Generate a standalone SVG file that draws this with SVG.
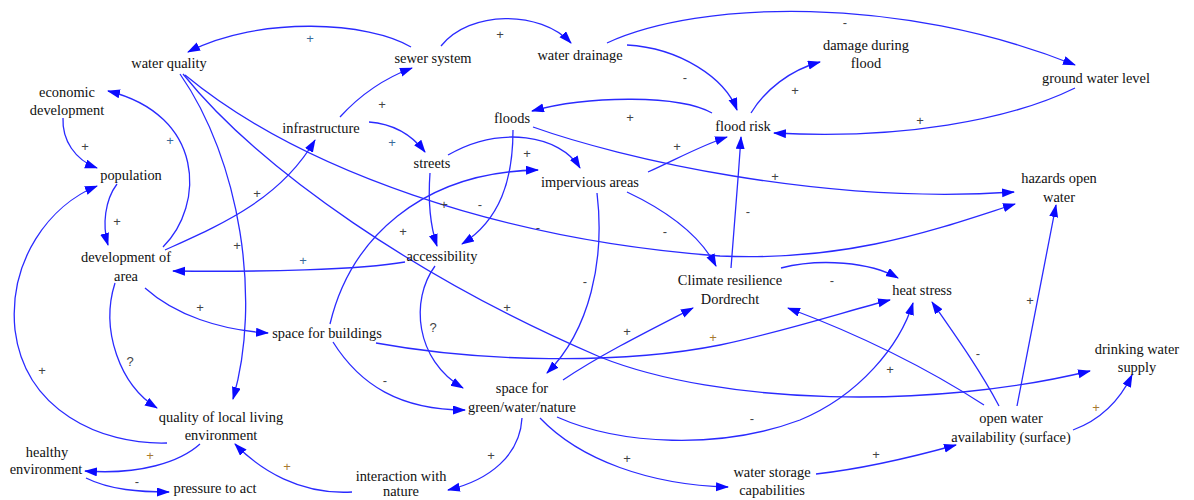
<svg xmlns="http://www.w3.org/2000/svg" width="1194" height="500" viewBox="0 0 1194 500">
<defs>
<marker id="ah" markerUnits="userSpaceOnUse" markerWidth="14" markerHeight="10" refX="12" refY="4.5" orient="auto">
<path d="M0,0 L13,4.5 L0,9 z" fill="#0a0aff"/>
</marker>
</defs>
<style>
.e{fill:none;stroke:#2a2aff;stroke-width:1.3;marker-end:url(#ah)}
.n{font-family:"Liberation Serif","Times New Roman",serif;font-size:14.4px;fill:#111;text-anchor:middle}
.p{font-family:"Liberation Sans",Arial,sans-serif;font-size:13px;fill:#444;text-anchor:middle}
.b{fill:#3a6a9a}
.o{fill:#a87a30}
</style>
<rect width="1194" height="500" fill="#fff"/>
<g id="connectors">
<path class="e" d="M411,47 C370,22 260,15 188,52"/>
<path class="e" d="M441,46 C470,10 540,10 571,43"/>
<path class="e" d="M607,43 C700,0 900,-5 1075,65"/>
<path class="e" d="M627,45 C680,48 725,78 737,110"/>
<path class="e" d="M1075,88 C1010,120 900,140 774,133"/>
<path class="e" d="M751,113 C765,90 790,70 820,62"/>
<path class="e" d="M712,113 C680,95 590,95 532,111"/>
<path class="e" d="M533,127 C620,158 820,205 1014,192"/>
<path class="e" d="M185,75 C300,170 500,240 720,256 C850,262 940,228 1015,204"/>
<path class="e" d="M180,74 C240,160 262,300 233,399"/>
<path class="e" d="M183,74 C260,170 420,280 600,357 C720,405 930,410 1090,371"/>
<path class="e" d="M63,118 C62,140 75,160 97,168"/>
<path class="e" d="M163,247 C205,205 205,115 108,91"/>
<path class="e" d="M117,184 C105,200 102,225 108,245"/>
<path class="e" d="M167,443 C100,445 25,410 15,330 C8,260 50,205 97,186"/>
<path class="e" d="M115,283 C100,330 120,385 157,408"/>
<path class="e" d="M145,288 C175,315 220,330 268,333"/>
<path class="e" d="M405,262 C360,270 260,272 173,271"/>
<path class="e" d="M165,250 C220,225 280,200 315,140"/>
<path class="e" d="M340,117 C360,95 385,78 412,68"/>
<path class="e" d="M369,122 C395,124 412,135 425,152"/>
<path class="e" d="M430,173 C428,200 430,225 437,246"/>
<path class="e" d="M513,130 C513,180 500,220 462,244"/>
<path class="e" d="M448,155 C500,125 560,135 580,168"/>
<path class="e" d="M330,324 C350,240 420,172 538,170"/>
<path class="e" d="M648,172 C675,160 700,146 727,137"/>
<path class="e" d="M627,192 C665,210 700,235 716,266"/>
<path class="e" d="M597,193 C605,260 590,330 547,373"/>
<path class="e" d="M731,268 C735,220 738,180 741,137"/>
<path class="e" d="M781,268 C820,258 870,262 898,278"/>
<path class="e" d="M435,266 C410,300 415,360 463,388"/>
<path class="e" d="M333,342 C360,385 400,410 465,410"/>
<path class="e" d="M376,343 C480,362 620,365 720,345 C790,330 850,310 890,300"/>
<path class="e" d="M563,380 C600,355 650,330 693,308"/>
<path class="e" d="M557,417 C620,445 720,450 800,420 C860,395 900,345 913,303"/>
<path class="e" d="M522,418 C520,455 490,480 448,490"/>
<path class="e" d="M540,418 C580,460 650,485 728,487"/>
<path class="e" d="M816,474 C870,468 920,455 956,445"/>
<path class="e" d="M1073,430 C1100,420 1120,400 1132,375"/>
<path class="e" d="M1017,406 C1030,340 1045,260 1056,205"/>
<path class="e" d="M999,406 C980,370 955,335 932,302"/>
<path class="e" d="M984,405 C930,370 860,335 788,308"/>
<path class="e" d="M352,492 C300,495 260,470 235,444"/>
<path class="e" d="M200,444 C180,462 140,475 85,471"/>
<path class="e" d="M86,478 C110,490 140,492 169,492"/>
</g>
<g id="polarities">
<text class="p b" x="310" y="43">+</text>
<text class="p" x="500" y="39">+</text>
<text class="p" x="845" y="27">-</text>
<text class="p" x="685" y="82">-</text>
<text class="p" x="920" y="125">+</text>
<text class="p" x="795" y="95">+</text>
<text class="p" x="630" y="122">+</text>
<text class="p" x="775" y="181">+</text>
<text class="p" x="538" y="232">-</text>
<text class="p" x="237" y="250">+</text>
<text class="p" x="507" y="312">+</text>
<text class="p" x="85" y="151">+</text>
<text class="p b" x="170" y="145">+</text>
<text class="p" x="117" y="226">+</text>
<text class="p" x="42" y="375">+</text>
<text class="p" x="130" y="366">?</text>
<text class="p" x="200" y="312">+</text>
<text class="p b" x="303" y="265">+</text>
<text class="p" x="257" y="198">+</text>
<text class="p" x="382" y="109">+</text>
<text class="p b" x="392" y="147">+</text>
<text class="p" x="444" y="209">+</text>
<text class="p" x="480" y="209">-</text>
<text class="p" x="527" y="158">+</text>
<text class="p" x="403" y="236">+</text>
<text class="p" x="677" y="151">+</text>
<text class="p" x="665" y="236">-</text>
<text class="p" x="585" y="286">-</text>
<text class="p" x="748" y="216">-</text>
<text class="p" x="832" y="285">-</text>
<text class="p" x="433" y="332">?</text>
<text class="p" x="385" y="385">-</text>
<text class="p o" x="713" y="342">+</text>
<text class="p" x="627" y="336">+</text>
<text class="p" x="752" y="423">-</text>
<text class="p" x="491" y="460">+</text>
<text class="p" x="627" y="463">+</text>
<text class="p" x="876" y="459">+</text>
<text class="p o" x="1096" y="412">+</text>
<text class="p" x="1030" y="305">+</text>
<text class="p" x="978" y="358">-</text>
<text class="p" x="890" y="374">+</text>
<text class="p o" x="287" y="471">+</text>
<text class="p o" x="150" y="460">+</text>
<text class="p" x="137" y="486">-</text>
</g>
<g id="water-quality"><text class="n" x="169" y="68">water quality</text></g>
<g id="sewer-system"><text class="n" x="433" y="63">sewer system</text></g>
<g id="water-drainage"><text class="n" x="580" y="60">water drainage</text></g>
<g id="damage-during-flood"><text class="n" x="866" y="50">damage during</text><text class="n" x="866" y="68">flood</text></g>
<g id="ground-water-level"><text class="n" x="1096" y="83">ground water level</text></g>
<g id="economic-development"><text class="n" x="67" y="97">economic</text><text class="n" x="67" y="115">development</text></g>
<g id="population"><text class="n" x="131" y="180">population</text></g>
<g id="infrastructure"><text class="n" x="321" y="133">infrastructure</text></g>
<g id="floods"><text class="n" x="512" y="123">floods</text></g>
<g id="flood-risk"><text class="n" x="743" y="131">flood risk</text></g>
<g id="streets"><text class="n" x="432" y="168">streets</text></g>
<g id="impervious-areas"><text class="n" x="590" y="187">impervious areas</text></g>
<g id="hazards-open-water"><text class="n" x="1059" y="183">hazards open</text><text class="n" x="1059" y="202">water</text></g>
<g id="development-of-area"><text class="n" x="126" y="262">development of</text><text class="n" x="126" y="281">area</text></g>
<g id="accessibility"><text class="n" x="442" y="261">accessibility</text></g>
<g id="climate-resilience"><text class="n" x="730" y="285">Climate resilience</text><text class="n" x="730" y="304">Dordrecht</text></g>
<g id="heat-stress"><text class="n" x="922" y="295">heat stress</text></g>
<g id="space-for-buildings"><text class="n" x="327" y="338">space for buildings</text></g>
<g id="drinking-water-supply"><text class="n" x="1137" y="354">drinking water</text><text class="n" x="1137" y="372">supply</text></g>
<g id="space-for-green"><text class="n" x="522" y="393">space for</text><text class="n" x="522" y="412">green/water/nature</text></g>
<g id="quality-local-living"><text class="n" x="221" y="422">quality of local living</text><text class="n" x="221" y="440">environment</text></g>
<g id="open-water-availability"><text class="n" x="1011" y="423">open water</text><text class="n" x="1011" y="442">availability (surface)</text></g>
<g id="healthy-environment"><text class="n" x="47" y="457">healthy</text><text class="n" x="46" y="474">environment</text></g>
<g id="pressure-to-act"><text class="n" x="215" y="493">pressure to act</text></g>
<g id="interaction-with-nature"><text class="n" x="401" y="481">interaction with</text><text class="n" x="401" y="496">nature</text></g>
<g id="water-storage"><text class="n" x="772" y="477">water storage</text><text class="n" x="772" y="495">capabilities</text></g>
</svg>
